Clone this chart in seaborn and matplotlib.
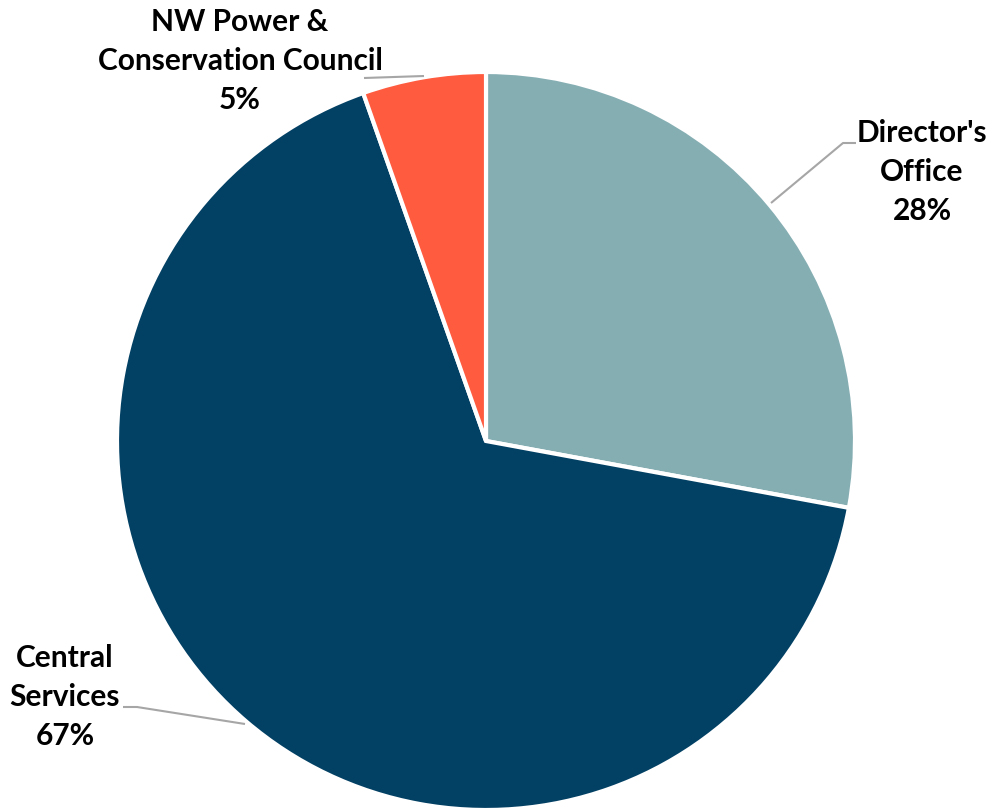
import matplotlib
matplotlib.use("Agg")
import matplotlib.pyplot as plt
import seaborn as sns

categories = ["Director's\nOffice", "Central\nServices", "NW Power &\nConservation Council"]
values = [27.9, 66.7, 5.4]
pct_labels = ["28%", "67%", "5%"]
colors = ["#85AEB3", "#024064", "#FF5B3F"]

sns.set_theme(style="white")
plt.rcParams['font.family'] = ['Lato', 'DejaVu Sans']

W, H = 992, 809
fig = plt.figure(figsize=(W / 100, H / 100), dpi=100)
ax = fig.add_axes([0, 0, 1, 1])

cx, cy, r = 486, H - 441, 369
ax.pie(values, colors=colors, startangle=90, counterclock=False,
       center=(cx, cy), radius=r, frame=True,
       wedgeprops=dict(edgecolor='white', linewidth=3))
ax.set_xlim(0, W)
ax.set_ylim(0, H)
ax.set_aspect('equal')
ax.axis('off')

# leader lines (pixel coords, y from top)
def line(pts):
    xs = [p[0] for p in pts]
    ys = [H - p[1] for p in pts]
    ax.plot(xs, ys, color='#A6A6A6', lw=1.5, solid_capstyle='butt')

line([(771, 203), (843, 143), (856, 143)])
line([(364, 78), (424, 76)])
line([(123, 707), (137, 707), (245, 724)])

label_pos = [(922, 172), (65, 697), (240, 61)]
for cat, pct, (x, y) in zip(categories, pct_labels, label_pos):
    ax.text(x, H - y, f"{cat}\n{pct}", ha='center', va='center',
            fontsize=21.5, fontweight='bold', color='black', linespacing=1.47)

fig.savefig("out.png", dpi=100)
